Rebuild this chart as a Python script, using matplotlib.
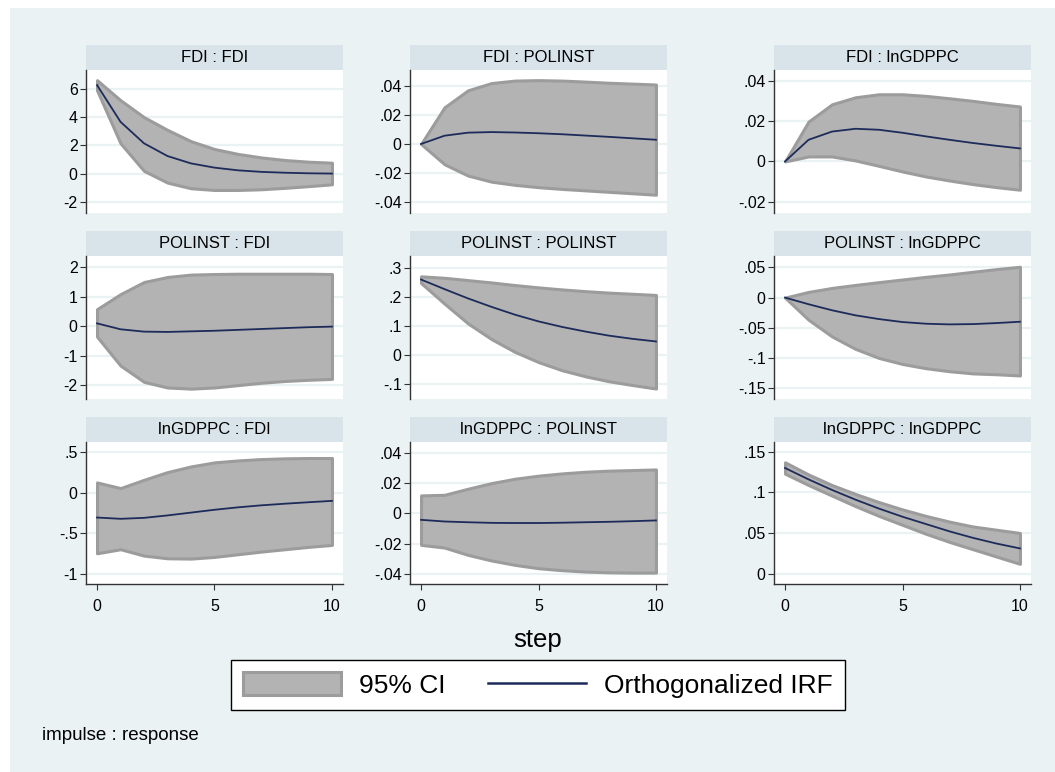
import matplotlib
matplotlib.use("Agg")
import matplotlib.pyplot as plt
from matplotlib.patches import Patch, Rectangle
from matplotlib.lines import Line2D

plt.rcParams['font.family'] = ['Liberation Sans', 'DejaVu Sans']

W, H = 1055, 772

steps = list(range(11))
variables = ['FDI', 'POLINST', 'lnGDPPC']

# impulse : response -> orthogonalized IRF, lower and upper 95% CI
irf_fdi_fdi = [6.27, 3.67, 2.15, 1.25, 0.73, 0.43, 0.24, 0.13, 0.07, 0.03, 0.01]
lo_fdi_fdi = [5.9, 2.15, 0.2, -0.63, -1.03, -1.15, -1.15, -1.1, -1.0, -0.88, -0.75]
hi_fdi_fdi = [6.62, 5.2, 4.0, 3.1, 2.3, 1.75, 1.4, 1.15, 0.97, 0.85, 0.78]

irf_fdi_pol = [0, 0.0057, 0.0078, 0.0082, 0.0079, 0.0074, 0.0067, 0.0058, 0.0049, 0.0039, 0.0029]
lo_fdi_pol = [0, -0.014, -0.0218, -0.026, -0.0282, -0.0298, -0.031, -0.032, -0.033, -0.034, -0.035]
hi_fdi_pol = [0, 0.0253, 0.037, 0.042, 0.0437, 0.044, 0.0437, 0.043, 0.0422, 0.0416, 0.041]

irf_fdi_gdp = [0, 0.0108, 0.0149, 0.0163, 0.0158, 0.0143, 0.0125, 0.0108, 0.0092, 0.0078, 0.0065]
lo_fdi_gdp = [0, 0.0025, 0.0025, 0.0005, -0.0022, -0.005, -0.0075, -0.0095, -0.0113, -0.0128, -0.0141]
hi_fdi_gdp = [0, 0.0199, 0.0285, 0.032, 0.0335, 0.0335, 0.0327, 0.0315, 0.0302, 0.0287, 0.0274]

irf_pol_fdi = [0.1, -0.1, -0.18, -0.19, -0.17, -0.15, -0.12, -0.09, -0.06, -0.03, -0.01]
lo_pol_fdi = [-0.35, -1.33, -1.88, -2.07, -2.11, -2.07, -1.99, -1.91, -1.85, -1.81, -1.78]
hi_pol_fdi = [0.58, 1.09, 1.5, 1.67, 1.75, 1.77, 1.78, 1.78, 1.78, 1.78, 1.77]

irf_pol_pol = [0.259, 0.226, 0.194, 0.165, 0.138, 0.115, 0.096, 0.08, 0.066, 0.055, 0.046]
lo_pol_pol = [0.247, 0.176, 0.108, 0.054, 0.01, -0.025, -0.053, -0.074, -0.091, -0.104, -0.116]
hi_pol_pol = [0.27, 0.265, 0.257, 0.249, 0.24, 0.232, 0.225, 0.219, 0.214, 0.21, 0.206]

irf_pol_gdp = [0, -0.011, -0.021, -0.0294, -0.0356, -0.0405, -0.0433, -0.0444, -0.0439, -0.0422, -0.04]
lo_pol_gdp = [0, -0.0367, -0.0644, -0.085, -0.1, -0.11, -0.117, -0.122, -0.1256, -0.127, -0.129]
hi_pol_gdp = [0, 0.0094, 0.016, 0.021, 0.0256, 0.03, 0.0344, 0.0383, 0.0428, 0.0472, 0.051]

irf_gdp_fdi = [-0.306, -0.322, -0.31, -0.28, -0.245, -0.21, -0.18, -0.155, -0.135, -0.117, -0.1]
lo_gdp_fdi = [-0.748, -0.698, -0.777, -0.81, -0.814, -0.793, -0.76, -0.727, -0.698, -0.669, -0.645]
hi_gdp_fdi = [0.128, 0.058, 0.161, 0.256, 0.326, 0.376, 0.4, 0.417, 0.426, 0.43, 0.43]

irf_gdp_pol = [-0.0042, -0.0053, -0.0058, -0.0062, -0.0063, -0.0063, -0.0061, -0.0058, -0.0055, -0.0051, -0.0046]
lo_gdp_pol = [-0.0207, -0.0225, -0.0273, -0.031, -0.0339, -0.0361, -0.0374, -0.0383, -0.0388, -0.039, -0.039]
hi_gdp_pol = [0.0119, 0.0123, 0.0163, 0.02, 0.0229, 0.0249, 0.0264, 0.0275, 0.0282, 0.0286, 0.029]

irf_gdp_gdp = [0.13, 0.116, 0.103, 0.091, 0.08, 0.07, 0.061, 0.052, 0.044, 0.037, 0.031]
lo_gdp_gdp = [0.123, 0.109, 0.096, 0.083, 0.071, 0.06, 0.049, 0.039, 0.03, 0.021, 0.012]
hi_gdp_gdp = [0.137, 0.122, 0.109, 0.098, 0.088, 0.079, 0.071, 0.064, 0.058, 0.054, 0.05]

# y ticks for each panel (row = impulse, col = response)
yticks = [
    [[-2, 0, 2, 4, 6], [-0.04, -0.02, 0, 0.02, 0.04], [-0.02, 0, 0.02, 0.04]],
    [[-2, -1, 0, 1, 2], [-0.1, 0, 0.1, 0.2, 0.3], [-0.15, -0.1, -0.05, 0, 0.05]],
    [[-1, -0.5, 0, 0.5], [-0.04, -0.02, 0, 0.02, 0.04], [0, 0.05, 0.1, 0.15]],
]
ylims = [
    [(-2.78, 7.34), (-0.0476, 0.051), (-0.0257, 0.0456)],
    [(-2.46, 2.38), (-0.152, 0.34), (-0.168, 0.0689)],
    [(-1.128, 0.628), (-0.0465, 0.0471), (-0.0128, 0.162)],
]
xticks = [0, 5, 10]

panels = [
    [(irf_fdi_fdi, lo_fdi_fdi, hi_fdi_fdi), (irf_fdi_pol, lo_fdi_pol, hi_fdi_pol), (irf_fdi_gdp, lo_fdi_gdp, hi_fdi_gdp)],
    [(irf_pol_fdi, lo_pol_fdi, hi_pol_fdi), (irf_pol_pol, lo_pol_pol, hi_pol_pol), (irf_pol_gdp, lo_pol_gdp, hi_pol_gdp)],
    [(irf_gdp_fdi, lo_gdp_fdi, hi_gdp_fdi), (irf_gdp_pol, lo_gdp_pol, hi_gdp_pol), (irf_gdp_gdp, lo_gdp_gdp, hi_gdp_gdp)],
]

BG = '#EAF2F3'
HEAD = '#D8E4E9'
CI_FILL = '#B3B3B3'
CI_EDGE = '#9C9C9C'
NAVY = '#1C2B5A'
AXC = '#333333'


def stata_fmt(v):
    if v == 0:
        return '0'
    s = f"{v:g}"
    return s.replace('0.', '.')


def px_rect(left, top, right, bottom):
    return [left / W, 1 - bottom / H, (right - left) / W, (bottom - top) / H]


col_x = [(86, 343), (410, 667), (774, 1031)]
row_y = [(45, 70, 213), (231, 256, 399), (417, 442, 584)]

fig = plt.figure(figsize=(W / 100, H / 100), dpi=100)
fig.patch.set_facecolor('white')
fig.add_artist(Rectangle((10 / W, 0), 1 - 10 / W, 1 - 8 / H, transform=fig.transFigure,
                         facecolor=BG, edgecolor='none', zorder=-10))

for i in range(3):
    for j in range(3):
        x0, x1 = col_x[j]
        yh, yt, yb = row_y[i]
        irf, lo, hi = panels[i][j]

        # header strip
        hax = fig.add_axes(px_rect(x0, yh, x1, yt))
        hax.set_facecolor(HEAD)
        hax.set_xticks([])
        hax.set_yticks([])
        for sp in hax.spines.values():
            sp.set_visible(False)
        hax.text(0.5, 0.5, f"{variables[i]} : {variables[j]}", ha='center', va='center',
                 fontsize=12, transform=hax.transAxes)

        ax = fig.add_axes(px_rect(x0, yt, x1, yb))
        ax.set_facecolor('white')
        ax.fill_between(steps, lo, hi, facecolor=CI_FILL, edgecolor=CI_EDGE, linewidth=2.2, zorder=2)
        ax.plot(steps, irf, color=NAVY, linewidth=1.3, zorder=3)

        ax.set_xlim(-0.47, 10.47)
        ax.set_ylim(*ylims[i][j])
        ax.set_yticks(yticks[i][j])
        ax.set_yticklabels([stata_fmt(v) for v in yticks[i][j]])
        for v in yticks[i][j]:
            ax.axhline(v, color=BG, linewidth=1.6, zorder=1)

        ax.spines['top'].set_visible(False)
        ax.spines['right'].set_visible(False)
        ax.spines['left'].set_color(AXC)
        ax.spines['left'].set_linewidth(1.0)
        ax.tick_params(axis='y', direction='out', length=4, width=0.8, color=AXC,
                       labelsize=11.5, pad=2)
        if i == 2:
            ax.spines['bottom'].set_color(AXC)
            ax.spines['bottom'].set_linewidth(1.0)
            ax.set_xticks(xticks)
            ax.set_xticklabels([str(t) for t in xticks])
            ax.tick_params(axis='x', direction='out', length=4.5, width=0.8, color=AXC,
                           labelsize=11.5, pad=6)
        else:
            ax.spines['bottom'].set_visible(False)
            ax.set_xticks([])

fig.text(538 / W, 1 - 640 / H, 'step', ha='center', va='center', fontsize=18.5)

handles = [Patch(facecolor=CI_FILL, edgecolor=CI_EDGE, linewidth=2.2),
           Line2D([0], [0], color=NAVY, linewidth=1.8)]
leg = fig.legend(handles, ['95% CI', 'Orthogonalized IRF'], ncol=2, fontsize=19,
                 loc='center', bbox_to_anchor=(538 / W, 1 - 685 / H),
                 frameon=True, fancybox=False, edgecolor='black', facecolor='white',
                 framealpha=1, handlelength=3.7, handleheight=0.95, handletextpad=0.7,
                 columnspacing=1.6, borderpad=0.45)
leg.get_frame().set_linewidth(1.0)

fig.text(42 / W, 1 - 735 / H, 'impulse : response', ha='left', va='center', fontsize=13.5)

fig.savefig('out.png', dpi=100, facecolor=fig.get_facecolor())
